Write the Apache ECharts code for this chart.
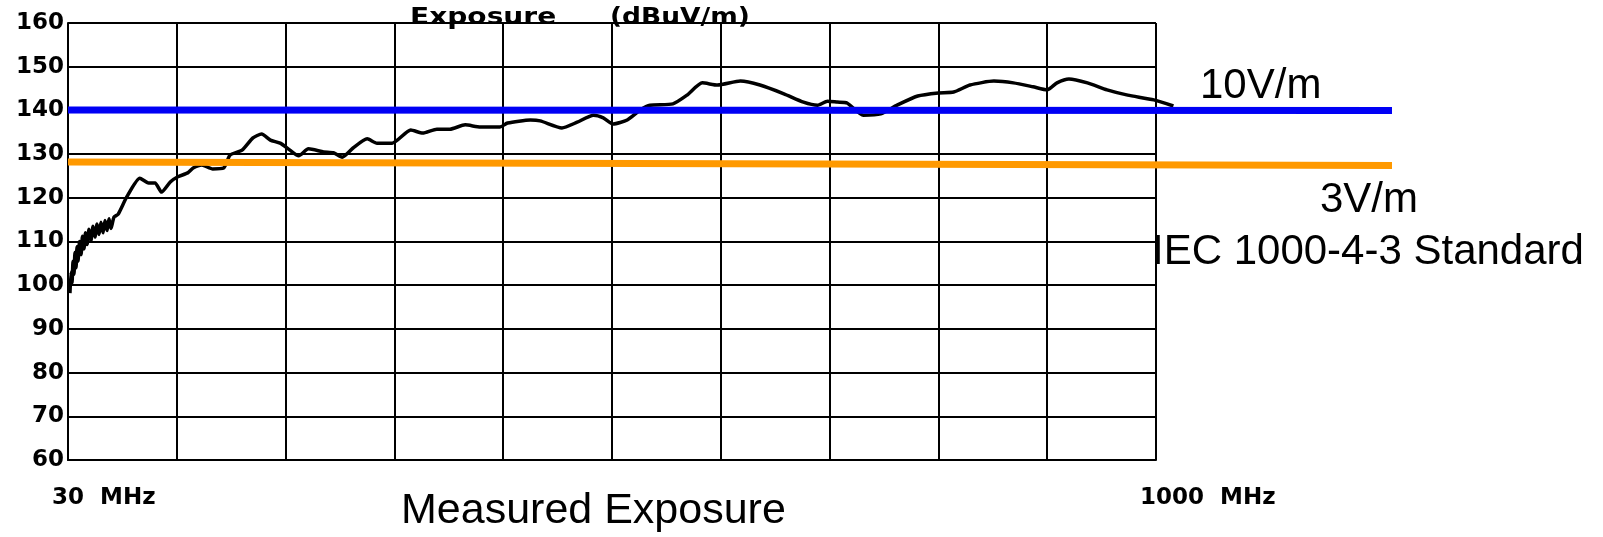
<!DOCTYPE html>
<html>
<head>
<meta charset="utf-8">
<title>Measured Exposure</title>
<script src="https://cdn.jsdelivr.net/npm/echarts@6/dist/echarts.min.js"></script>
<style>
  html, body { margin: 0; padding: 0; background: #fff; }
  #chart { width: 1603px; height: 537px; }
</style>
</head>
<body>
<div id="chart"></div>
<script>
  // x position in grid divisions (0 = 30 MHz, 10 = 1000 MHz)
  const xDiv = [
    0.018, 0.028, 0.037, 0.046, 0.055, 0.064, 0.074, 0.083, 0.092, 0.106, 0.120, 0.133, 0.147, 0.161, 0.175,
    0.193, 0.211, 0.230, 0.248, 0.267, 0.285, 0.303, 0.322, 0.340, 0.359, 0.377, 0.395, 0.423, 0.460,
    0.54, 0.66, 0.74, 0.80, 0.86, 0.94, 1.01, 1.10, 1.15, 1.23, 1.33, 1.43, 1.49, 1.60, 1.70, 1.78,
    1.86, 1.95, 2.04, 2.12, 2.21, 2.35, 2.44, 2.52, 2.62, 2.75, 2.84, 2.98, 3.15, 3.26, 3.39, 3.51,
    3.65, 3.79, 3.97, 4.04, 4.25, 4.34, 4.54, 4.68, 4.83, 4.92, 5.01, 5.14, 5.26, 5.35, 5.56, 5.69,
    5.83, 5.97, 6.18, 6.36, 6.58, 6.76, 6.89, 6.98, 7.07, 7.16, 7.31, 7.47, 7.62, 7.81, 8.00, 8.14,
    8.29, 8.51, 8.69, 8.87, 9.00, 9.09, 9.20, 9.37, 9.55, 9.74, 9.98, 10.16
  ]
  // exposure (dBuV/m)
  const exposure = [
    98.2, 103.0, 100.5, 105.5, 102.5, 107.5, 104.0, 108.8, 105.5, 110.0, 107.0, 111.2, 108.3, 112.0, 109.3,
    112.8, 110.2, 113.5, 111.0, 114.0, 111.6, 114.4, 112.0, 114.8, 112.5, 115.2, 113.0, 115.6, 116.2,
    120.2, 124.5, 123.4, 123.4, 121.3, 123.6, 124.8, 125.7, 126.8, 127.5, 126.6, 126.8, 129.8, 130.9, 133.7, 134.6,
    133.2, 132.5, 130.9, 129.6, 131.2, 130.5, 130.3, 129.3, 131.4, 133.5, 132.5, 132.5, 135.5, 134.8, 135.7, 135.7,
    136.7, 136.2, 136.2, 137.1, 137.8, 137.6, 136.0, 137.3, 138.9, 138.3, 136.9, 137.8, 140.1, 141.2, 141.5, 143.5,
    146.3, 145.8, 146.7, 145.8, 143.8, 141.9, 141.2, 142.1, 141.9, 141.7, 138.9, 139.2, 141.2, 143.3, 144.0, 144.2,
    145.8, 146.7, 146.3, 145.4, 144.7, 146.3, 147.2, 146.3, 144.7, 143.5, 142.4, 141.0
  ]
  // IEC 1000-4-3 limit lines, start / end level
  const limit10V = [140.1, 140.0]
  const limit3V = [128.2, 127.4]
  const xTickLabels = ['30  MHz', '1000  MHz']

  const scanFont = 'DejaVu Sans'
  const textFont = '"Liberation Sans", Arial, sans-serif'

  // plot area, and the wider area the curve tail and limit lines run into
  const plotGrid = { left: 68, right: 447, top: 23, bottom: 77 }
  const wideGrid = { left: 68, right: 211, top: 23, bottom: 77 }
  const divMax = 10
  const wideMax = divMax * (1603 - wideGrid.left - wideGrid.right) / (1603 - plotGrid.left - plotGrid.right)

  let myChart = echarts.init(document.getElementById('chart'))

  const curve = xDiv.map((x, i) => [x, exposure[i]])

  myChart.setOption({
    backgroundColor: '#fff',
    animation: false,
    grid: [plotGrid, wideGrid],
    xAxis: [
      {
        type: 'value',
        gridIndex: 0,
        min: 0,
        max: divMax,
        interval: 1,
        axisLine: { show: true, lineStyle: { color: '#000', width: 2 } },
        axisTick: { show: false },
        splitLine: { show: true, lineStyle: { color: '#000', width: 2 } },
        axisLabel: {
          showMinLabel: true,
          showMaxLabel: true,
          margin: 27,
          align: 'left',
          padding: [0, 0, 0, -16],
          color: '#000',
          fontFamily: scanFont,
          fontWeight: 'bold',
          fontSize: 23,
          formatter(value) {
            if (value === 0) return xTickLabels[0]
            if (value === divMax) return xTickLabels[1]
            return ''
          }
        }
      },
      { type: 'value', gridIndex: 1, min: 0, max: wideMax, show: false }
    ],
    yAxis: [
      {
        type: 'value',
        gridIndex: 0,
        min: 60,
        max: 160,
        interval: 10,
        axisLine: { show: true, lineStyle: { color: '#000', width: 2 } },
        axisTick: { show: false },
        splitLine: { show: true, lineStyle: { color: '#000', width: 2 } },
        axisLabel: {
          margin: 4,
          color: '#000',
          fontFamily: scanFont,
          fontWeight: 'bold',
          fontSize: 23
        }
      },
      { type: 'value', gridIndex: 1, min: 60, max: 160, show: false }
    ],
    graphic: [
      {
        type: 'text', x: 410, y: 7, scaleX: 1.22, silent: true, z: 10,
        style: { text: 'Exposure', font: 'bold 23px ' + scanFont, fill: '#000' }
      },
      {
        type: 'text', x: 610, y: 7, scaleX: 1.15, silent: true, z: 10,
        style: { text: '(dBuV/m)', font: 'bold 23px ' + scanFont, fill: '#000' }
      },
      {
        type: 'text', x: 1200, y: 65, silent: true,
        style: { text: '10V/m', font: '42px ' + textFont, fill: '#000' }
      },
      {
        type: 'text', x: 1320, y: 179, silent: true,
        style: { text: '3V/m', font: '42px ' + textFont, fill: '#000' }
      },
      {
        type: 'text', x: 1152, y: 231, silent: true,
        style: { text: 'IEC 1000-4-3 Standard', font: '42px ' + textFont, fill: '#000' }
      },
      {
        type: 'text', x: 401, y: 490, silent: true,
        style: { text: 'Measured Exposure', font: '43px ' + textFont, fill: '#000' }
      }
    ],
    series: [
      {
        name: 'Exposure',
        type: 'line',
        xAxisIndex: 1,
        yAxisIndex: 1,
        smooth: 0.2,
        showSymbol: false,
        lineStyle: { color: '#000', width: 3.5 },
        data: curve
      },
      {
        name: '10V/m',
        type: 'line',
        xAxisIndex: 1,
        yAxisIndex: 1,
        z: 5,
        showSymbol: false,
        lineStyle: { color: '#0000f5', width: 7, cap: 'butt' },
        data: [[0, limit10V[0]], [wideMax, limit10V[1]]]
      },
      {
        name: '3V/m',
        type: 'line',
        xAxisIndex: 1,
        yAxisIndex: 1,
        z: 5,
        showSymbol: false,
        lineStyle: { color: '#ff9900', width: 7, cap: 'butt' },
        data: [[0, limit3V[0]], [wideMax, limit3V[1]]]
      }
    ]
  })

  window.addEventListener('resize', () => myChart && myChart.resize())
</script>
</body>
</html>
